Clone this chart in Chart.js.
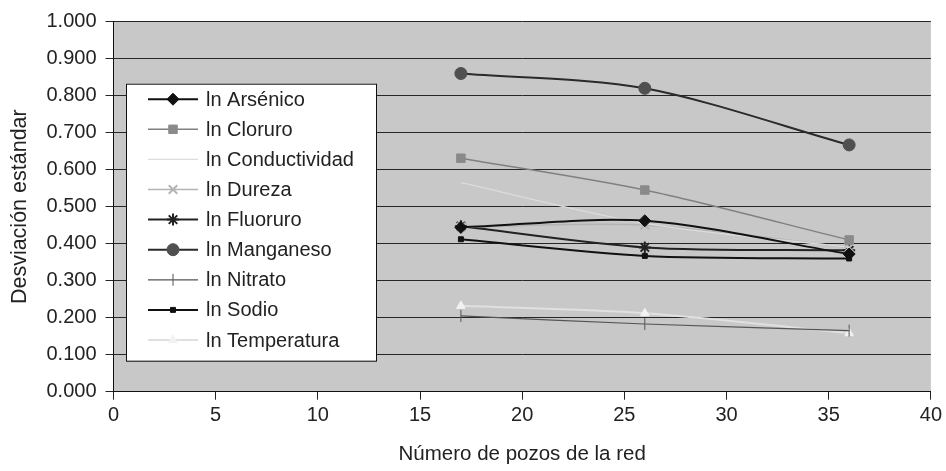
<!DOCTYPE html>
<html>
<head>
<meta charset="utf-8">
<script src="https://cdn.jsdelivr.net/npm/chart.js@4.4.1/dist/chart.umd.min.js"></script>
<style>
  html, body { margin: 0; padding: 0; background: #fff; }
  #wrap { width: 946px; height: 471px; position: relative; }
</style>
</head>
<body>
<div id="wrap"><canvas id="lineChart" width="946" height="471"></canvas></div>
<script>
const wellCounts = [17, 26, 36];

const seriesNames = [
  "ln Arsénico",
  "ln Cloruro",
  "ln Conductividad",
  "ln Dureza",
  "ln Fluoruro",
  "ln Manganeso",
  "ln Nitrato",
  "ln Sodio",
  "ln Temperatura",
];

const arsenico = [0.444, 0.462, 0.372];
const cloruro = [0.631, 0.545, 0.41];
const conductividad = [0.565, 0.455, 0.39];
const dureza = [0.445, 0.45, 0.39];
const fluoruro = [0.447, 0.39, 0.382];
const manganeso = [0.86, 0.82, 0.667];
const nitrato = [0.205, 0.183, 0.165];
const sodio = [0.412, 0.367, 0.36];
const temperatura = [0.232, 0.212, 0.158];

const seriesValues = [
  arsenico, cloruro, conductividad, dureza, fluoruro,
  manganeso, nitrato, sodio, temperatura,
];

const xTickStep = 5;
const yTickStep = 0.1;

const styles = [
  { color: "#111", width: 2, point: "rectRot", radius: 6, fill: "#111" },
  { color: "#808080", width: 1.5, point: "rect", radius: 6, fill: "#8a8a8a" },
  { color: "#dcdcdc", width: 1.2, point: false, radius: 0, fill: "#dcdcdc" },
  { color: "#b4b4b4", width: 1.5, point: "crossRot", radius: 6, fill: "#b4b4b4" },
  { color: "#222", width: 2, point: "star", radius: 6, fill: "#222" },
  { color: "#2a2a2a", width: 2, point: "circle", radius: 6, fill: "#505050" },
  { color: "#555", width: 1.2, point: "line", radius: 6, fill: "#555", rotation: 90 },
  { color: "#111", width: 2, point: "rect", radius: 3.5, fill: "#111" },
  { color: "#e0e0e0", width: 2, point: "triangle", radius: 5, fill: "#f2f2f2" },
];

const datasets = seriesNames.map((name, i) => {
  const s = styles[i];
  return {
    label: name,
    data: wellCounts.map((x, j) => ({ x: x, y: seriesValues[i][j] })),
    borderColor: s.color,
    borderWidth: s.width,
    backgroundColor: s.fill,
    pointStyle: s.point,
    pointRadius: s.radius,
    pointRotation: s.rotation || 0,
    pointBorderColor: s.point === "crossRot" || s.point === "star" || s.point === "line" ? s.color : s.fill,
    pointBackgroundColor: s.fill,
    pointBorderWidth: s.point === "star" || s.point === "crossRot" ? 2 : 1,
    showLine: true,
    tension: 0.3,
  };
});

// gray plot area
const plotBackground = {
  id: "plotBackground",
  beforeDraw(chart) {
    const { ctx, chartArea } = chart;
    ctx.save();
    ctx.fillStyle = "#c8c8c8";
    ctx.fillRect(chartArea.left, chartArea.top, chartArea.right - chartArea.left, chartArea.bottom - chartArea.top);
    ctx.restore();
  },
};

// legend box sitting inside the plot area, like the original
const insideLegend = {
  id: "insideLegend",
  afterDraw(chart) {
    const { ctx, chartArea } = chart;
    const left = chartArea.left + 12.5;
    const top = chartArea.top + 62;
    const w = 250;
    const h = 277;
    ctx.save();
    ctx.fillStyle = "#fff";
    ctx.fillRect(left, top, w, h);
    ctx.strokeStyle = "#111";
    ctx.lineWidth = 1;
    ctx.strokeRect(left + 0.5, top + 0.5, w, h);
    ctx.font = "20px 'Liberation Sans', Arial, sans-serif";
    ctx.textBaseline = "middle";
    chart.data.datasets.forEach((ds, i) => {
      const y = top + 15.5 + i * 30.1;
      ctx.strokeStyle = ds.borderColor;
      ctx.lineWidth = ds.borderWidth;
      ctx.beginPath();
      ctx.moveTo(left + 22, y);
      ctx.lineTo(left + 72, y);
      ctx.stroke();
      if (ds.pointStyle) {
        ctx.fillStyle = ds.pointBackgroundColor;
        ctx.strokeStyle = ds.pointBorderColor;
        ctx.lineWidth = ds.pointBorderWidth;
        Chart.helpers.drawPoint(ctx, {
          pointStyle: ds.pointStyle,
          radius: ds.pointRadius,
          rotation: ds.pointRotation,
          borderWidth: ds.pointBorderWidth,
        }, left + 47, y);
      }
      ctx.fillStyle = "#222";
      ctx.fillText(ds.label, left + 80, y + 1);
    });
    ctx.restore();
  },
};

const chartElement = document.getElementById("lineChart").getContext("2d");

const lineChart = new Chart(chartElement, {
  type: "scatter",
  data: { datasets: datasets },
  plugins: [plotBackground, insideLegend],
  options: {
    responsive: false,
    animation: false,
    layout: { padding: { left: 0, top: 21.7, right: 14.3, bottom: 0 } },
    plugins: {
      legend: { display: false },
      tooltip: { enabled: false },
    },
    scales: {
      x: {
        type: "linear",
        min: 0,
        max: 40,
        afterFit(scale) {
          scale.height = 79.3;
        },
        ticks: {
          stepSize: xTickStep,
          color: "#222",
          padding: 4,
          font: { family: "'Liberation Sans', Arial, sans-serif", size: 20 },
        },
        grid: {
          drawOnChartArea: false,
          drawTicks: true,
          tickLength: 8,
          color: "#222",
        },
        border: { display: true, color: "#111", width: 1 },
        title: {
          display: true,
          text: "Número de pozos de la red",
          color: "#222",
          padding: { top: 0, bottom: 4 },
          font: { family: "'Liberation Sans', Arial, sans-serif", size: 20.5 },
        },
      },
      y: {
        type: "linear",
        min: 0,
        max: 1,
        afterFit(scale) {
          scale.width = 113.5;
        },
        ticks: {
          stepSize: yTickStep,
          color: "#222",
          padding: 9,
          callback: (v) => v.toFixed(3),
          font: { family: "'Liberation Sans', Arial, sans-serif", size: 20 },
        },
        grid: {
          drawOnChartArea: true,
          drawTicks: true,
          tickLength: 8,
          color: "#262626",
          lineWidth: 1,
        },
        border: { display: true, color: "#111", width: 1 },
        title: {
          display: true,
          text: "Desviación estándar",
          color: "#222",
          padding: { top: 7.5, bottom: 0 },
          font: { family: "'Liberation Sans', Arial, sans-serif", size: 21.5 },
        },
      },
    },
  },
});
</script>
</body>
</html>
